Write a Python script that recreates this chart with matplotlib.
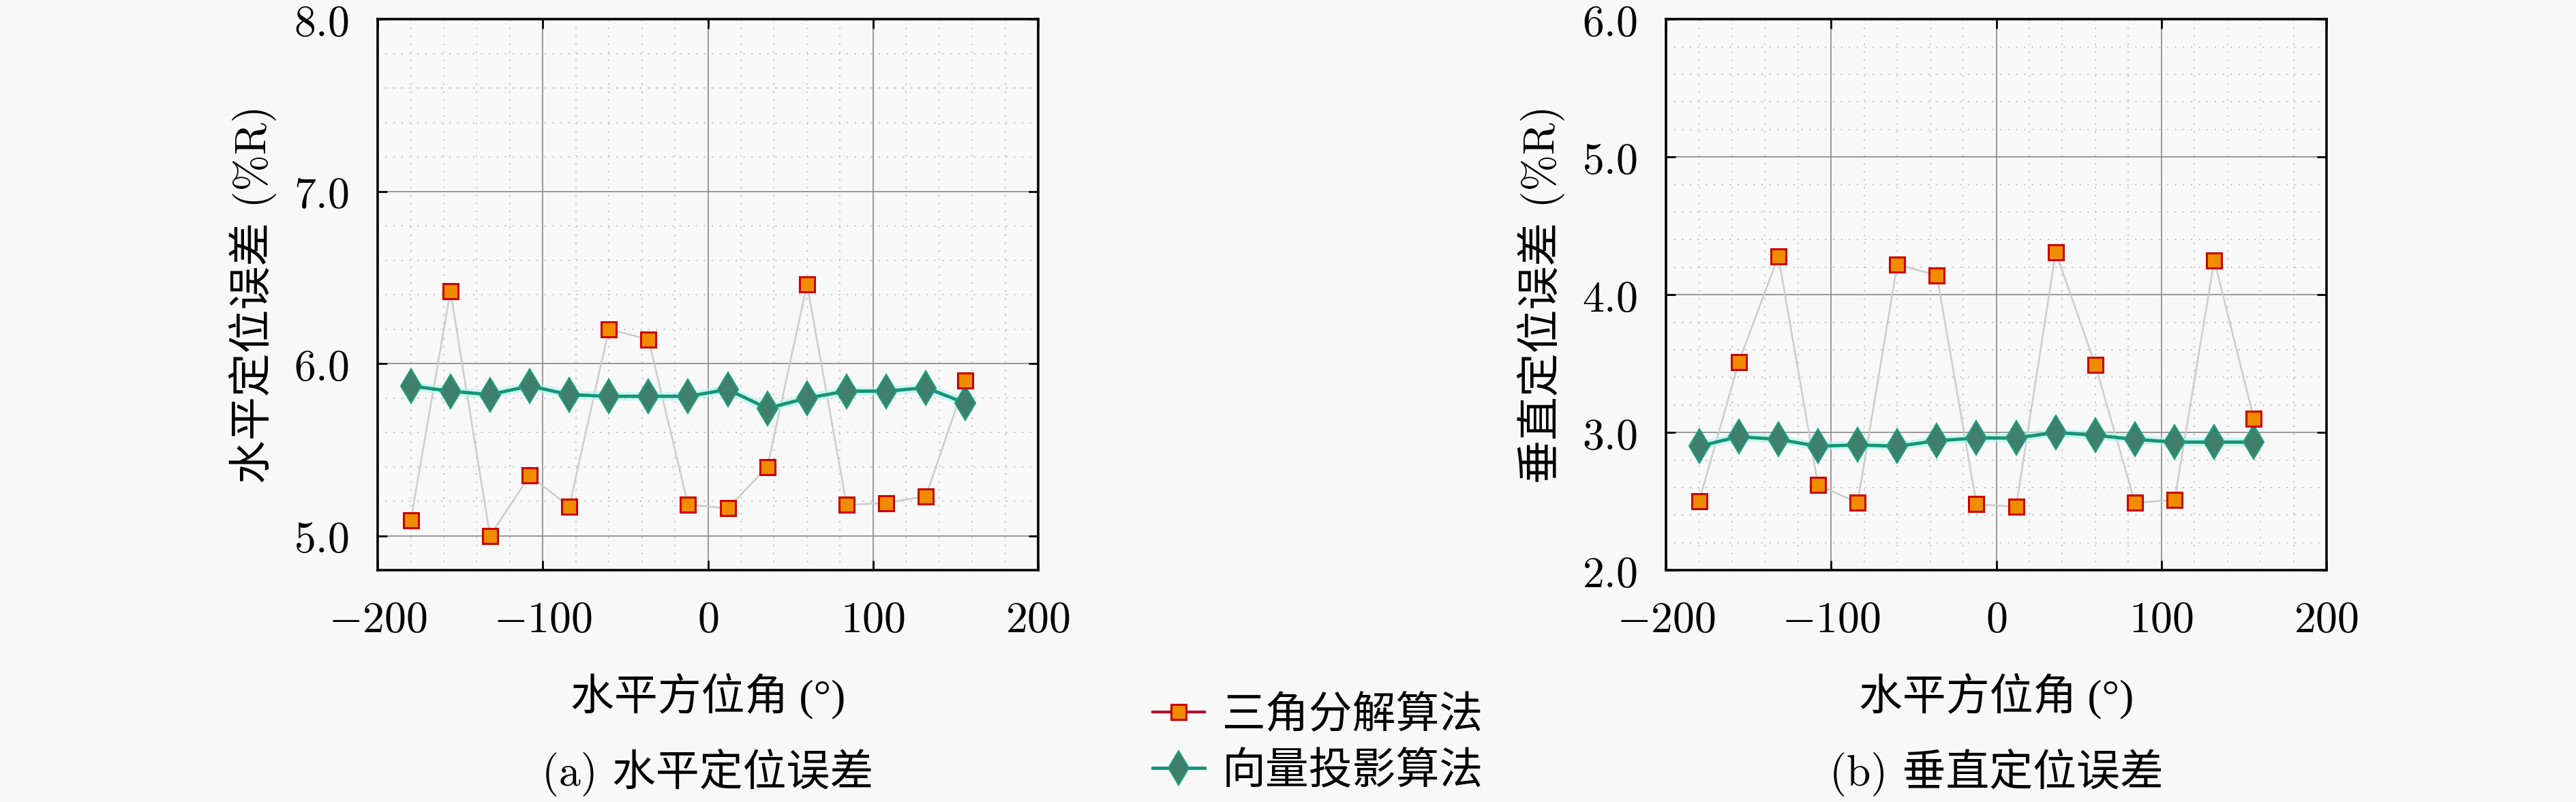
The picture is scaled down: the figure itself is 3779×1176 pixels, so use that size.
import numpy as np
import matplotlib
matplotlib.use('Agg')
import matplotlib.pyplot as plt
from matplotlib.lines import Line2D
from matplotlib.ticker import MultipleLocator

plt.rcParams['mathtext.fontset'] = 'cm'
plt.rcParams['axes.unicode_minus'] = True

# azimuth angles (deg)
azimuth = [-180, -156, -132, -108, -84, -60, -36, -12, 12, 36, 60, 84, 108, 132, 156]

# horizontal positioning error (%R)
h_tri = [5.09, 6.42, 5.00, 5.35, 5.17, 6.20, 6.14, 5.18, 5.16, 5.40, 6.46, 5.18, 5.19, 5.23, 5.90]
h_vec = [5.87, 5.84, 5.82, 5.87, 5.82, 5.81, 5.81, 5.81, 5.85, 5.74, 5.80, 5.84, 5.84, 5.86, 5.77]

# vertical positioning error (%R)
v_tri = [2.50, 3.51, 4.28, 2.62, 2.49, 4.22, 4.14, 2.48, 2.46, 4.31, 3.49, 2.49, 2.51, 4.25, 3.10]
v_vec = [2.90, 2.97, 2.95, 2.90, 2.91, 2.90, 2.94, 2.96, 2.96, 3.00, 2.98, 2.95, 2.93, 2.93, 2.93]

xticks = [-200, -100, 0, 100, 200]
h_yticks = [5.0, 6.0, 7.0, 8.0]
v_yticks = [2.0, 3.0, 4.0, 5.0, 6.0]

bg = '#f8f8f8'
cjk = ['cmr10', 'Noto Sans CJK SC', 'DejaVu Sans']
cjk_deg = ['Liberation Serif', 'Noto Sans CJK SC', 'DejaVu Sans']
fs = 46

fig = plt.figure(figsize=(37.8, 11.76), dpi=100, facecolor=bg)
ax1 = fig.add_axes([0.1466, 0.289, 0.2563, 0.687])
ax2 = fig.add_axes([0.6466, 0.289, 0.2563, 0.687])


def draw(ax, tri, vec, ylim, yticks, ylabel, caption):
    ax.set_facecolor(bg)
    ax.plot(azimuth, tri, color='#cccccc', lw=1.8, zorder=3)
    ax.plot(azimuth, tri, ls='none', marker='s', ms=16, mfc='#f08c00',
            mec='#cc0000', mew=2.2, zorder=5)
    ax.plot(azimuth, vec, color='#b0f5ea', lw=9, alpha=0.6, zorder=3)
    ax.plot(azimuth, vec, color='#159478', lw=3.5, marker='d', ms=25,
            mfc='#3f7f6c', mec='#17a080', mew=1.5, zorder=4)
    ax.set_xlim(-200, 200)
    ax.set_ylim(*ylim)
    ax.set_xticks(xticks)
    ax.set_xticklabels(['$%d$' % t for t in xticks])
    ax.set_yticks(yticks)
    ax.set_yticklabels(['$%.1f$' % t for t in yticks])
    ax.xaxis.set_minor_locator(MultipleLocator(20))
    ax.yaxis.set_minor_locator(MultipleLocator(0.2))
    ax.grid(which='major', color='#888888', lw=1.2)
    ax.grid(which='minor', color='#c0c0c0', lw=1.4, ls=(0, (1, 5)))
    ax.tick_params(which='major', direction='in', length=10, width=2,
                   labelsize=46, pad=30, top=True, right=True)
    ax.tick_params(which='minor', length=0)
    for sp in ax.spines.values():
        sp.set_linewidth(2.6)
    ax.set_axisbelow(True)
    ax.set_ylabel(ylabel, family=cjk, fontsize=fs, labelpad=18)
    ax.set_xlabel('水平方位角 (°)', family=cjk_deg, fontsize=fs, labelpad=34)
    pos = ax.get_position()
    fig.text((pos.x0 + pos.x1) / 2, 0.037, caption, ha='center',
             va='center', family=cjk, fontsize=fs)


draw(ax1, h_tri, h_vec, (4.8, 8.0), h_yticks, '水平定位误差 (%R)', '(a) 水平定位误差')
draw(ax2, v_tri, v_vec, (2.0, 6.0), v_yticks, '垂直定位误差 (%R)', '(b) 垂直定位误差')

handles = [
    Line2D([], [], color='#b0102a', lw=3, marker='s', ms=16, mfc='#f08c00',
           mec='#cc0000', mew=2.2),
    Line2D([], [], color='#159478', lw=3.5, marker='d', ms=25,
           mfc='#3f7f6c', mec='#17a080', mew=1.5),
]
fig.legend(handles, ['三角分解算法', '向量投影算法'], loc='center left',
           bbox_to_anchor=(0.4405, 0.073), frameon=False,
           prop={'family': cjk, 'size': fs}, handlelength=1.2,
           handletextpad=0.4, labelspacing=0.35, borderaxespad=0)

fig.savefig('out.png', dpi=100, facecolor=bg)
